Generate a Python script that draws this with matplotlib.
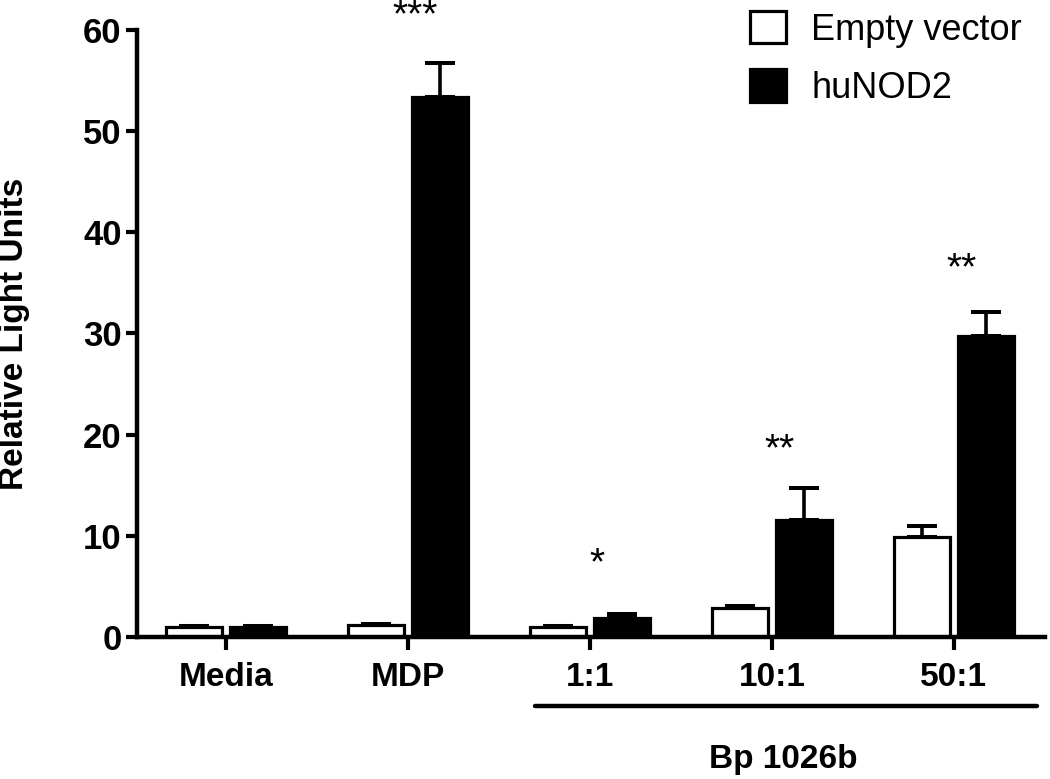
import numpy as np
import matplotlib.pyplot as plt
import matplotlib.transforms as mtransforms

plt.rcParams['font.family'] = ['Liberation Sans', 'DejaVu Sans']

# data
groups = ['Media', 'MDP', '1:1', '10:1', '50:1']
empty_vals = [1.0, 1.2, 1.0, 2.9, 9.9]
empty_err = [0.1, 0.1, 0.1, 0.15, 1.1]
nod2_vals = [1.0, 53.4, 1.9, 11.6, 29.8]
nod2_err = [0.1, 3.3, 0.4, 3.1, 2.3]
stars = ['', '***', '*', '**', '**']
star_y = [0, 60.4, 6.2, 17.5, 35.4]   # baseline of the star text

fig = plt.figure(figsize=(10.5, 7.79), dpi=100)
ax = fig.add_axes([0.1305, 0.1823, 0.8645, 0.7792])

x = np.arange(len(groups))
w = 0.305
off = 0.176
lw = 2.3

ax.bar(x - off, empty_vals, w, color='white', edgecolor='black', linewidth=lw,
       label='Empty vector', zorder=2)
ax.bar(x + off, nod2_vals, w, color='black', edgecolor='black', linewidth=lw,
       label='huNOD2', zorder=2)
ax.errorbar(x - off, empty_vals, yerr=[np.zeros(len(x)), empty_err], fmt='none',
            ecolor='black', elinewidth=lw + 0.3, capsize=11, capthick=lw + 0.6,
            zorder=1)
ax.errorbar(x + off, nod2_vals, yerr=[np.zeros(len(x)), nod2_err], fmt='none',
            ecolor='black', elinewidth=lw + 0.3, capsize=11, capthick=lw + 0.6,
            zorder=1)

# significance marks
for xi, s, sy in zip(x, stars, star_y):
    if s:
        ax.text(xi + 0.04, sy, s, ha='center', va='baseline', fontsize=28,
                clip_on=False)

ax.set_xlim(-0.49, 4.5)
ax.set_ylim(0, 60)
ax.set_yticks([0, 10, 20, 30, 40, 50, 60])
ax.set_xticks(x)
ax.set_xticklabels(groups, fontsize=24, fontweight='bold')
ax.tick_params(axis='y', labelsize=25, width=3.0, length=8, pad=3,
               direction='out')
ax.tick_params(axis='x', width=3.0, length=9, pad=9, direction='out')
for lab in ax.get_yticklabels():
    lab.set_fontweight('bold')

for sp in ['top', 'right']:
    ax.spines[sp].set_visible(False)
for sp in ['left', 'bottom']:
    ax.spines[sp].set_linewidth(3.2)

ax.set_ylabel('Relative Light Units', fontsize=24, fontweight='bold')
ax.yaxis.set_label_coords(-0.118, 0.5)

# bracket line under the Bp 1026b groups
trans = mtransforms.blended_transform_factory(ax.transData, ax.transAxes)
ax.plot([1.70, 4.46], [-0.1137, -0.1137], color='black', linewidth=3.2,
        transform=trans, clip_on=False, solid_capstyle='round')
ax.text(3.06, -0.216, 'Bp 1026b', transform=trans, ha='center',
        va='baseline', fontsize=24, fontweight='bold')

leg = fig.legend(loc='upper left', bbox_to_anchor=(750 / 1050, 1 - 11 / 779),
                 frameon=False, fontsize=26, handlelength=1.0,
                 handleheight=1.0, handletextpad=0.7, labelspacing=0.6,
                 borderpad=0, borderaxespad=0)

fig.savefig('out.png', dpi=100)
